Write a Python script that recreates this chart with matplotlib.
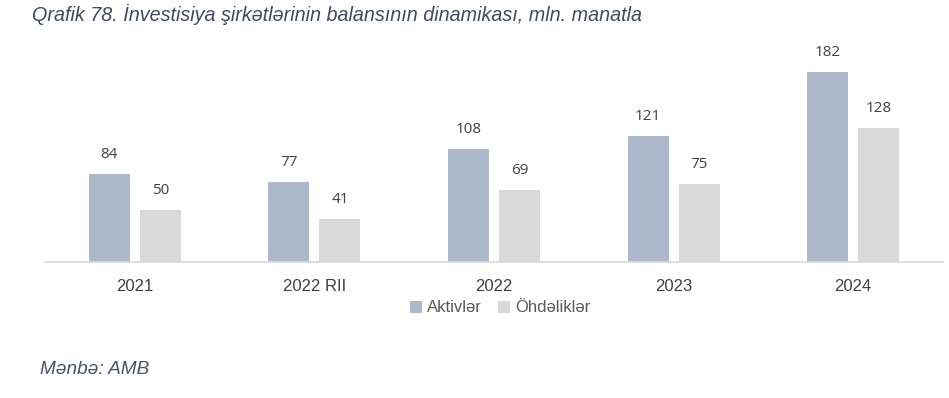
import matplotlib
matplotlib.use("Agg")
import matplotlib.pyplot as plt
import numpy as np

categories = ["2021", "2022 RII", "2022", "2023", "2024"]
aktivler = [84, 77, 108, 121, 182]
ohdelikler = [50, 41, 69, 75, 128]
series_names = ["Aktivlər", "Öhdəliklər"]
title = "Qrafik 78. İnvestisiya şirkətlərinin balansının dinamikası, mln. manatla"
source = "Mənbə: AMB"

c_akt = "#ADB9CA"
c_ohd = "#D9D9D9"

fig = plt.figure(figsize=(9.49, 3.98), dpi=100)
ax = fig.add_axes([45/949, (398-262)/398, 898/949, 209/398])

x = np.arange(len(categories))
w = 0.228
off = 0.142
b1 = ax.bar(x - off, aktivler, w, color=c_akt, label=series_names[0])
b2 = ax.bar(x + off, ohdelikler, w, color=c_ohd, label=series_names[1])

for bars, vals in ((b1, aktivler), (b2, ohdelikler)):
    for r, v in zip(bars, vals):
        ax.annotate(str(v), (r.get_x() + r.get_width()/2, r.get_height()),
                    xytext=(0, 8.5), textcoords="offset points",
                    ha="center", va="bottom", fontsize=11,
                    family="Open Sans", color="#404040")

ax.set_xlim(-0.5, len(categories) - 0.5)
ax.set_ylim(0, 200)
ax.set_yticks([])
ax.set_xticks(x)
ax.set_xticklabels(categories, fontsize=12, family="Liberation Sans", color="#404040")
ax.tick_params(axis="x", length=0, pad=12)
for s in ("top", "right", "left"):
    ax.spines[s].set_visible(False)
ax.spines["bottom"].set_color("#D9D9D9")
ax.spines["bottom"].set_linewidth(1.2)

leg = fig.legend(handles=[b1, b2], labels=series_names, loc="center",
                 bbox_to_anchor=(500/949, 1 - 308/398), ncol=2, frameon=False,
                 prop={"family": "Liberation Sans", "size": 12},
                 handlelength=0.7, handleheight=0.7, handletextpad=0.3,
                 columnspacing=1.0)
for t in leg.get_texts():
    t.set_color("#595959")

fig.text(32/949, 1 - 14/398, title, fontsize=14.2, style="italic",
         family="Liberation Sans", color="#3F4A5E", va="center", ha="left")
fig.text(40/949, 1 - 370/398, source, fontsize=13.7, style="italic",
         family="Liberation Sans", color="#44546A", va="center", ha="left")

fig.savefig("out.png", dpi=100)
